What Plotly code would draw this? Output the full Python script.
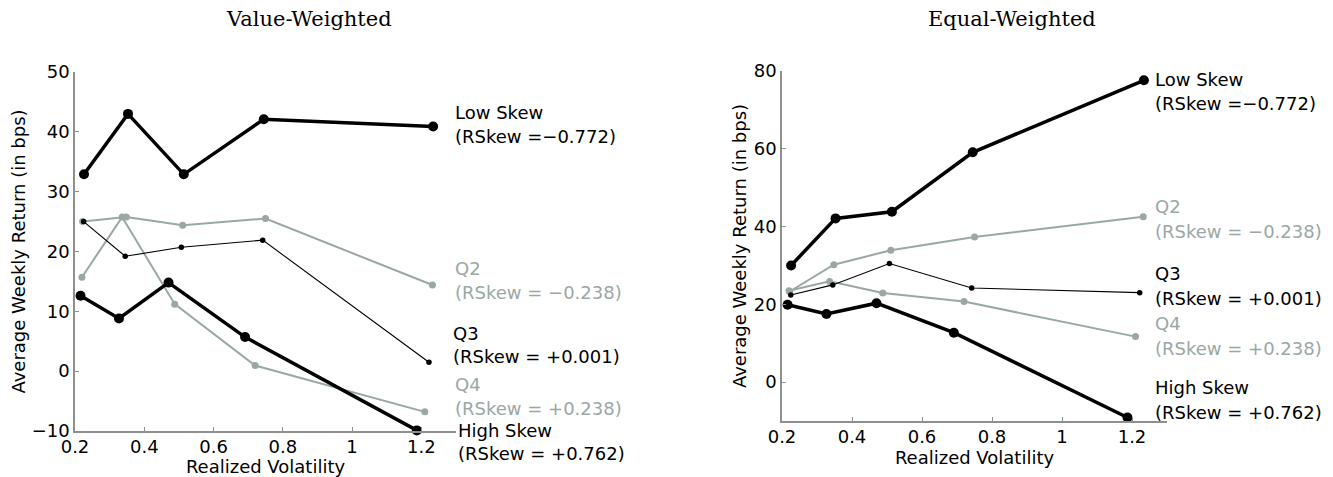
import plotly.graph_objects as go

W, H = 1333, 477
OFF = 8  # page body margin
FW, FH = W - OFF, H - OFF

# ---------------- data ----------------
series_names = ["Low Skew", "Q2", "Q3", "Q4", "High Skew"]
rskew_labels = ["(RSkew =\u22120.772)", "(RSkew = \u22120.238)", "(RSkew = +0.001)",
                "(RSkew = +0.238)", "(RSkew = +0.762)"]

vol_low = [0.226, 0.353, 0.514, 0.745, 1.234]
vol_q2 = [0.222, 0.348, 0.511, 0.750, 1.232]
vol_q3 = [0.225, 0.345, 0.507, 0.742, 1.222]
vol_q4 = [0.220, 0.336, 0.488, 0.720, 1.210]
vol_high = [0.216, 0.327, 0.470, 0.691, 1.187]

vw_low = [32.9, 43.0, 32.9, 42.1, 40.9]
vw_q2 = [25.0, 25.75, 24.4, 25.5, 14.4]
vw_q3 = [25.0, 19.2, 20.7, 21.9, 1.5]
vw_q4 = [15.7, 25.75, 11.2, 0.95, -6.8]
vw_high = [12.6, 8.8, 14.8, 5.7, -9.9]

ew_low = [30.0, 42.1, 43.8, 59.1, 77.6]
ew_q2 = [23.3, 30.2, 33.9, 37.3, 42.5]
ew_q3 = [22.4, 25.0, 30.5, 24.2, 23.0]
ew_q4 = [23.5, 25.9, 22.9, 20.7, 11.7]
ew_high = [19.9, 17.5, 20.3, 12.7, -9.1]

x_ticks = [0.2, 0.4, 0.6, 0.8, 1.0, 1.2]
x_ticktext = ["0.2", "0.4", "0.6", "0.8", "1", "1.2"]
vw_yticks = [-10, 0, 10, 20, 30, 40, 50]
ew_yticks = [0, 20, 40, 60, 80]

# ---------------- styles ----------------
BLACK = "#000000"
GRAY = "#9aa8a5"
AXC = "#8f8f8f"
SANS = "DejaVu Sans"
styles = {
    "Low Skew": dict(color=BLACK, width=3.5, size=10),
    "Q2": dict(color=GRAY, width=2, size=7),
    "Q3": dict(color=BLACK, width=1.1, size=5.5),
    "Q4": dict(color=GRAY, width=2, size=7),
    "High Skew": dict(color=BLACK, width=3.5, size=10),
}
draw_order = ["Q2", "Q4", "Q3", "High Skew", "Low Skew"]

vols = dict(zip(series_names, [vol_low, vol_q2, vol_q3, vol_q4, vol_high]))
vw = dict(zip(series_names, [vw_low, vw_q2, vw_q3, vw_q4, vw_high]))
ew = dict(zip(series_names, [ew_low, ew_q2, ew_q3, ew_q4, ew_high]))

fig = go.Figure()
for panel, data in (("1", vw), ("2", ew)):
    for name in draw_order:
        st = styles[name]
        fig.add_trace(go.Scatter(
            x=vols[name], y=data[name], mode="lines+markers",
            line=dict(color=st["color"], width=st["width"]),
            marker=dict(color=st["color"], size=st["size"]),
            xaxis="x" if panel == "1" else "x2",
            yaxis="y" if panel == "1" else "y2",
            cliponaxis=False, showlegend=False, name=name,
        ))

def px_x(p):
    return (p - OFF) / FW

def px_y(p):
    return 1 - (p - OFF) / FH

tick_font = dict(family=SANS, size=18, color="black")
title_font = dict(family=SANS, size=18, color="black")

common_x = dict(range=[0.2, 1.3], tickvals=x_ticks, ticktext=x_ticktext,
                showgrid=False, zeroline=False, showline=True, linecolor=AXC,
                linewidth=1.5, ticks="inside", ticklen=4, tickcolor=AXC,
                tickfont=tick_font, automargin=False,
                title=dict(text="Realized Volatility", font=title_font, standoff=2),
                ticklabelstandoff=-1)
common_y = dict(showgrid=False, zeroline=False, showline=True, linecolor=AXC,
                linewidth=1.5, ticks="inside", ticklen=4, tickcolor=AXC,
                tickfont=tick_font, automargin=False)

fig.update_layout(
    width=FW, height=FH, margin=dict(l=0, r=0, t=0, b=0, autoexpand=False),
    paper_bgcolor="white", plot_bgcolor="white",
    xaxis=dict(domain=[px_x(75), px_x(456)], anchor="y", **common_x),
    yaxis=dict(domain=[px_y(431), px_y(72)], anchor="x", range=[-10, 50],
               tickvals=vw_yticks,
               title=dict(text="Average Weekly Return (in bps)", font=title_font, standoff=7),
               **common_y),
    xaxis2=dict(domain=[px_x(782), px_x(1167)], anchor="y2", **common_x),
    yaxis2=dict(domain=[px_y(421), px_y(71)], anchor="x2", range=[-10, 80],
                tickvals=ew_yticks,
                title=dict(text="Average Weekly Return (in bps)", font=title_font, standoff=2),
                **common_y),
)

# panel titles
for text, cx in (("Value-Weighted", 309), ("Equal-Weighted", 1012)):
    fig.add_annotation(text=text, x=px_x(cx), y=px_y(19), xref="paper", yref="paper",
                       xanchor="center", yanchor="middle", showarrow=False,
                       font=dict(family="DejaVu Serif", size=21, color="black"))

# series labels (pixel y of the two lines, left x)
label_colors = [BLACK, GRAY, BLACK, GRAY, BLACK]
left_pos = [(453, 113, 136), (453, 268, 292), (451, 333, 356), (453, 384, 408), (456, 430, 453)]
right_pos = [(1153, 79, 103), (1153, 206, 231), (1153, 273, 298), (1153, 323, 348), (1153, 387, 412)]
for positions in (left_pos, right_pos):
    for name, rs, col, (lx, y1, y2) in zip(series_names, rskew_labels, label_colors, positions):
        for txt, yy in ((name, y1), (rs, y2)):
            fig.add_annotation(text=txt, x=px_x(lx), y=px_y(yy), xref="paper", yref="paper",
                               xanchor="left", yanchor="middle", showarrow=False,
                               font=dict(family=SANS, size=18, color=col))

fig.write_html("out.html")
